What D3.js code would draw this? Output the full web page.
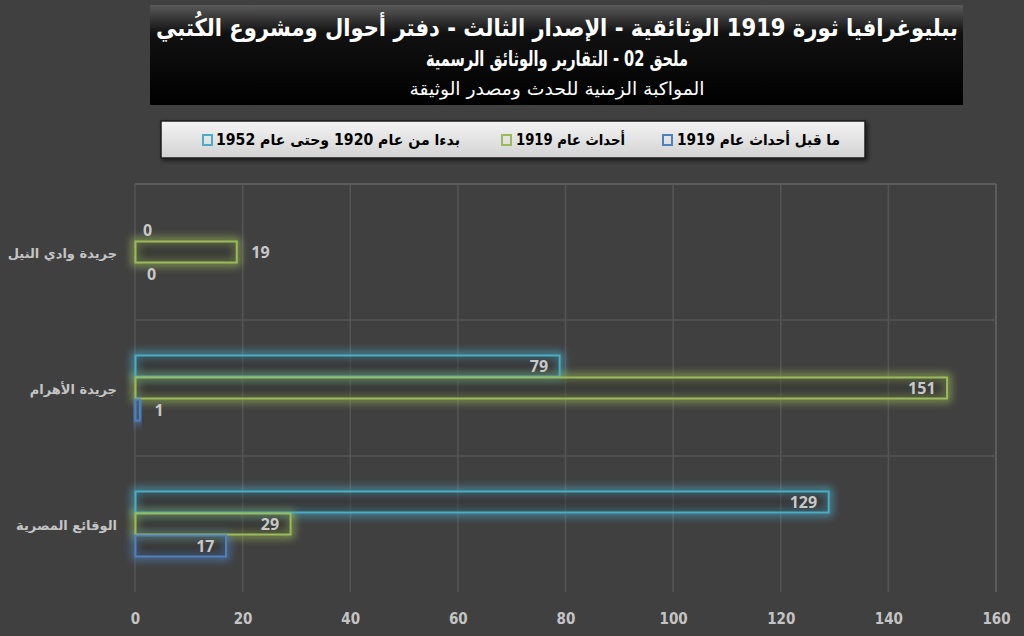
<!DOCTYPE html>
<html>
<head>
<meta charset="utf-8">
<script src="https://cdn.jsdelivr.net/npm/d3@7"></script>
<style>
  body { margin: 0; background: #404040; }
  svg { display: block; }
</style>
</head>
<body>
<script>
// ---- data ----
let categories = ['جريدة وادي النيل', 'جريدة الأهرام', 'الوقائع المصرية'];
let seriesNames = ['بدءا من عام 1920 وحتى عام 1952', 'أحداث عام 1919', 'ما قبل أحداث عام 1919'];
let after1920 = [0, 79, 129];
let events1919 = [19, 151, 29];
let before1919 = [0, 1, 17];
let xTicks = [0, 20, 40, 60, 80, 100, 120, 140, 160];
let titleLines = [
  'ببليوغرافيا ثورة 1919 الوثائقية - الإصدار الثالث - دفتر أحوال ومشروع الكُتبي',
  'ملحق 02 - التقارير والوثائق الرسمية',
  'المواكبة الزمنية للحدث ومصدر الوثيقة'
];

let seriesValues = [after1920, events1919, before1919];
let colors = ['#4bacc6', '#9bbb59', '#4f81bd'];

let width = 1024, height = 636;
let plotLeft = 135, plotRight = 996, plotTop = 184, plotBottom = 592;

let svg = d3.select('body')
  .append('svg')
    .attr('width', width)
    .attr('height', height);

let defs = svg.append('defs');

// title gradient
let tg = defs.append('linearGradient').attr('id', 'titleGrad').attr('x1', 0).attr('y1', 0).attr('x2', 0).attr('y2', 1);
tg.append('stop').attr('offset', '0%').attr('stop-color', '#5a5a5a');
tg.append('stop').attr('offset', '28%').attr('stop-color', '#111');
tg.append('stop').attr('offset', '100%').attr('stop-color', '#000');

// legend gradient
let lg = defs.append('linearGradient').attr('id', 'legendGrad').attr('x1', 0).attr('y1', 0).attr('x2', 0).attr('y2', 1);
lg.append('stop').attr('offset', '0%').attr('stop-color', '#f4f4f4');
lg.append('stop').attr('offset', '100%').attr('stop-color', '#d2d2d2');

// glow
defs.append('filter').attr('id', 'glow').attr('x', '-20%').attr('y', '-80%').attr('width', '140%').attr('height', '260%')
  .append('feGaussianBlur').attr('stdDeviation', 4.5);

defs.append('filter').attr('id', 'shadow').attr('x', '-5%').attr('y', '-20%').attr('width', '110%').attr('height', '160%')
  .append('feDropShadow').attr('dx', 2).attr('dy', 2).attr('stdDeviation', 2).attr('flood-color', '#000').attr('flood-opacity', 0.6);

// ---- scales ----
let x = d3.scaleLinear().domain([0, 160]).range([plotLeft, plotRight]);
let y = d3.scaleBand().domain(categories).range([plotTop, plotBottom]);
let inner = d3.scaleBand().domain(d3.range(3)).range([0, 66]);

// ---- grid ----
let grid = svg.append('g');
grid.selectAll('.vline')
  .data(xTicks).enter()
  .append('line')
    .attr('x1', d => x(d)).attr('x2', d => x(d))
    .attr('y1', plotTop).attr('y2', plotBottom)
    .attr('stroke', d => d === 160 ? '#5c5c5c' : '#555')
    .attr('stroke-width', d => d === 160 ? 2 : 1.5);

grid.selectAll('.hline')
  .data(categories).enter()
  .append('line')
    .attr('x1', plotLeft).attr('x2', plotRight)
    .attr('y1', d => y(d)).attr('y2', d => y(d))
    .attr('stroke', (d, i) => i === 0 ? '#5c5c5c' : '#555')
    .attr('stroke-width', (d, i) => i === 0 ? 2 : 1.5);

// ---- x axis ----
let xAxis = svg.append('g')
  .attr('transform', 'translate(0,' + 613 + ')')
  .call(d3.axisBottom(x).tickValues(xTicks).tickSize(0).tickPadding(0));
xAxis.select('.domain').remove();
xAxis.selectAll('text')
  .attr('fill', '#c4c4c4')
  .attr('font-family', 'DejaVu Sans')
  .attr('font-stretch', 'condensed')
  .attr('font-weight', 'bold')
  .attr('font-size', 15);

// ---- category labels ----
let yAxis = svg.append('g')
  .attr('transform', 'translate(117,0)')
  .call(d3.axisLeft(y).tickSize(0).tickPadding(0));
yAxis.select('.domain').remove();
yAxis.selectAll('text')
  .attr('fill', '#c4c4c4')
  .attr('font-family', 'DejaVu Sans')
  .attr('font-weight', 'bold')
  .attr('font-size', 13)
  .attr('dy', '0.45em');

// ---- bars ----
let rows = [];
categories.forEach(function (c, ci) {
  seriesValues.forEach(function (vals, si) {
    rows.push({ cat: c, ci: ci, si: si, value: vals[ci] });
  });
});

let groupOffset = (y.bandwidth() - 66) / 2;
function barY(d) { return y(d.cat) + groupOffset + inner(d.si); }

let bars = svg.append('g');
bars.selectAll('.glowbar')
  .data(rows).enter()
  .append('rect')
    .attr('x', x(0))
    .attr('y', d => barY(d))
    .attr('width', d => x(d.value) - x(0))
    .attr('height', inner.bandwidth())
    .attr('fill', 'none')
    .attr('stroke', d => colors[d.si])
    .attr('stroke-width', 6)
    .attr('opacity', d => d.value > 0 ? 0.8 : 0)
    .attr('filter', 'url(#glow)');

bars.selectAll('.bar')
  .data(rows.filter(d => d.value > 0)).enter()
  .append('rect')
    .attr('x', x(0) + 0.5)
    .attr('y', d => barY(d) + 0.5)
    .attr('width', d => Math.max(x(d.value) - x(0) - 1, 1))
    .attr('height', inner.bandwidth() - 1)
    .attr('fill', 'rgba(40,40,40,0.3)')
    .attr('stroke', d => colors[d.si])
    .attr('stroke-width', 2);

// ---- value labels ----
function labelOutside(d) { return d.ci === 0 || d.value < 5; }

svg.append('g').selectAll('text')
  .data(rows).enter()
  .append('text')
    .attr('x', d => labelOutside(d) ? x(d.value) + (d.value === 0 ? 8 + d.si * 2 : 14) : x(d.value) - 12)
    .attr('y', d => barY(d) + inner.bandwidth() / 2)
    .attr('dy', '0.36em')
    .attr('text-anchor', d => labelOutside(d) ? 'start' : 'end')
    .attr('fill', '#c8c8c8')
    .attr('font-family', 'Open Sans')
    .attr('font-weight', 'bold')
    .attr('font-size', 16)
    .text(d => d.value);

// ---- title ----
svg.append('rect')
  .attr('x', 150).attr('y', 5)
  .attr('width', 813).attr('height', 100)
  .attr('fill', 'url(#titleGrad)');

let titleY = [36, 66, 95];
let titleSize = [24, 21, 18];
let titleLength = [802, 262, 295];

svg.append('g').selectAll('text')
  .data(titleLines).enter()
  .append('text')
    .attr('x', 557)
    .attr('y', (d, i) => titleY[i])
    .attr('direction', 'rtl')
    .attr('text-anchor', 'middle')
    .attr('fill', '#fff')
    .attr('font-family', 'DejaVu Sans')
    .attr('font-weight', (d, i) => i < 2 ? 'bold' : 'normal')
    .attr('font-size', (d, i) => titleSize[i])
    .attr('textLength', (d, i) => titleLength[i])
    .attr('lengthAdjust', 'spacingAndGlyphs')
    .text(d => d);

// ---- legend ----
svg.append('rect')
  .attr('x', 161).attr('y', 121)
  .attr('width', 704).attr('height', 37)
  .attr('fill', 'url(#legendGrad)')
  .attr('stroke', '#1e1e1e')
  .attr('stroke-width', 1.5)
  .attr('filter', 'url(#shadow)');

let legendSquareX = [203, 502, 663];
let legendTextRight = [460, 625, 840];
let legendLength = [244, 109, 163];

let legend = svg.append('g').selectAll('g')
  .data(seriesNames).enter()
  .append('g');

legend.append('rect')
  .attr('x', (d, i) => legendSquareX[i])
  .attr('y', 135)
  .attr('width', 9).attr('height', 10)
  .attr('fill', 'none')
  .attr('stroke', (d, i) => colors[i])
  .attr('stroke-width', 2);

legend.append('text')
  .attr('x', (d, i) => legendTextRight[i])
  .attr('y', 140)
  .attr('dy', '0.36em')
  .attr('direction', 'rtl')
  .attr('text-anchor', 'start')
  .attr('fill', '#000')
  .attr('font-family', 'DejaVu Sans')
  .attr('font-weight', 'bold')
  .attr('font-size', 15)
  .attr('textLength', (d, i) => legendLength[i])
  .attr('lengthAdjust', 'spacingAndGlyphs')
  .text(d => d);
</script>
</body>
</html>
